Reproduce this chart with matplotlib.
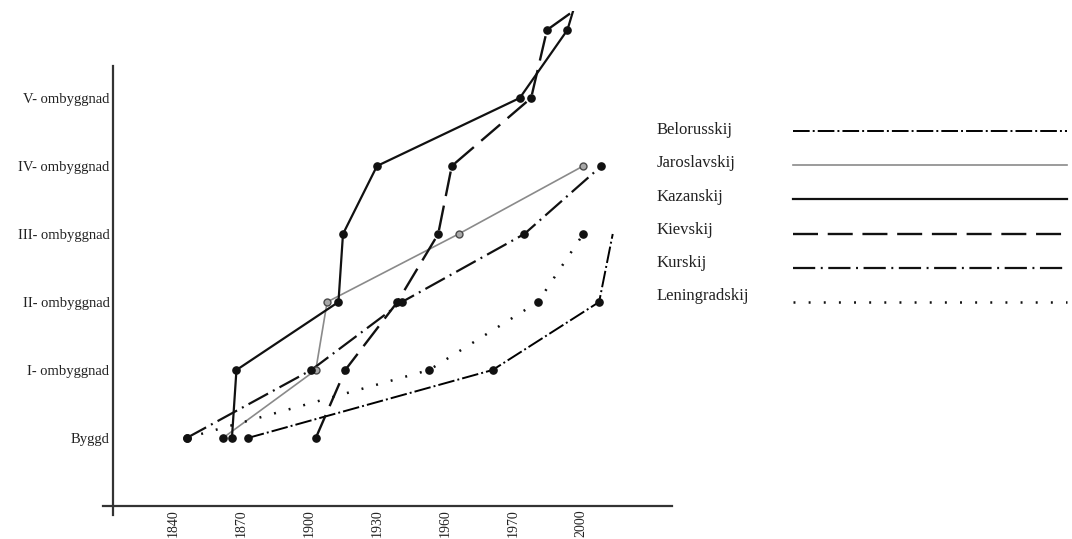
import numpy as np
import matplotlib
matplotlib.use("Agg")
import matplotlib.pyplot as plt
from matplotlib.lines import Line2D

plt.rcParams["font.family"] = ["Liberation Serif", "DejaVu Serif"]
plt.rcParams["lines.scale_dashes"] = False

# Axis categories
stage_labels = ["Byggd", "I- ombyggnad", "II- ombyggnad", "III- ombyggnad",
                "IV- ombyggnad", "V- ombyggnad"]
tick_years = [1840, 1870, 1900, 1930, 1960, 1970, 2000]
tick_labels = ["1840", "1870", "1900", "1930", "1960", "1970", "2000"]

# Station series: year of each stage and stage level (0 = built)
belorusskij_years = [1873, 1967, 2008, 2014]
belorusskij_levels = [0, 1, 2, 3]

jaroslavskij_years = [1862, 1903, 1908, 1962, 2001]
jaroslavskij_levels = [0, 1, 2, 3, 4]

kazanskij_years = [1866, 1868, 1913, 1915, 1930, 1973, 1994, 2003]
kazanskij_levels = [0, 1, 2, 3, 4, 5, 6, 7]

kievskij_years = [1903, 1916, 1939, 1957, 1961, 1978, 1985, 2027]
kievskij_levels = [0, 1, 2, 3, 4, 5, 6, 7]

kurskij_years = [1846, 1901, 1941, 1975, 2009]
kurskij_levels = [0, 1, 2, 3, 4]

leningradskij_years = [1846, 1953, 1981, 2001]
leningradskij_levels = [0, 1, 2, 3]

series = [
    ("Belorusskij", belorusskij_years, belorusskij_levels,
     dict(color="black", lw=1.4, ls=(0, (12, 2.2, 1.4, 2.2))), slice(0, -1)),
    ("Jaroslavskij", jaroslavskij_years, jaroslavskij_levels,
     dict(color="#8a8a8a", lw=1.2, ls="-"), None),
    ("Kazanskij", kazanskij_years, kazanskij_levels,
     dict(color="#111111", lw=1.6, ls="-"), slice(0, -1)),
    ("Kievskij", kievskij_years, kievskij_levels,
     dict(color="#111111", lw=1.7, ls=(0, (18, 7))), slice(0, -1)),
    ("Kurskij", kurskij_years, kurskij_levels,
     dict(color="#111111", lw=1.6, ls=(0, (16, 4, 1.4, 4))), None),
    ("Leningradskij", leningradskij_years, leningradskij_levels,
     dict(color="#111111", lw=1.8, ls=(0, (1.4, 9.5))), None),
]

# Piecewise axis: tick years sit at equal spacing
tick_idx = np.arange(len(tick_years), dtype=float)
ty = np.array(tick_years, dtype=float)


def year_to_pos(y):
    y = np.asarray(y, dtype=float)
    p = np.interp(y, ty, tick_idx)
    p = np.where(y < ty[0], (y - ty[0]) / 30.0, p)
    p = np.where(y > ty[-1], tick_idx[-1] + (y - ty[-1]) / 30.0, p)
    return p


def pos_to_year(p):
    p = np.asarray(p, dtype=float)
    y = np.interp(p, tick_idx, ty)
    y = np.where(p < 0, ty[0] + p * 30.0, y)
    y = np.where(p > tick_idx[-1], ty[-1] + (p - tick_idx[-1]) * 30.0, y)
    return y


W, H = 1072, 539
fig = plt.figure(figsize=(W / 100, H / 100), dpi=100)
fig.patch.set_facecolor("white")

ax_left, ax_right, ax_top = 100, 700, 11
ax = fig.add_axes([ax_left / W, 0, (ax_right - ax_left) / W, (H - ax_top) / H])
ax.set_xscale("function", functions=(year_to_pos, pos_to_year))
ax.set_xlim(1807.8, 2052.5)
ax.set_ylim(-1.485, 6.279)

dark_marker = dict(ls="none", marker="o", ms=5.2, color="#111111", zorder=3)
grey_marker = dict(ls="none", marker="o", ms=5, mfc="#a8a8a8",
                   mec="#4a4a4a", mew=1.0, zorder=3)

for name, yrs, lev, style, mev in series:
    ax.plot(yrs, lev, **style, zorder=2)
    my = yrs if mev is None else yrs[mev]
    ml = lev if mev is None else lev[mev]
    if name == "Jaroslavskij":
        # the building point is dark, later rebuilds are grey rings
        ax.plot(my[:1], ml[:1], **dark_marker)
        ax.plot(my[1:], ml[1:], **grey_marker)
    else:
        ax.plot(my, ml, **dark_marker)

axis_color = "#333333"
for s in ("top", "right"):
    ax.spines[s].set_visible(False)
ax.spines["left"].set_position(("data", 1813.5))
ax.spines["left"].set_bounds(-1.13, 5.47)
ax.spines["bottom"].set_position(("data", -1.0))
ax.spines["bottom"].set_bounds(1809.0, 2040.0)
for s in ("left", "bottom"):
    ax.spines[s].set_color(axis_color)
    ax.spines[s].set_linewidth(1.6)

ax.set_yticks(range(len(stage_labels)))
ax.set_yticklabels(stage_labels, fontsize=10.5, color="#222222")
ax.set_xticks(tick_years)
ax.set_xticklabels(tick_labels, fontsize=10, rotation=90, color="#222222")
ax.tick_params(axis="y", length=0, pad=2.5)
ax.tick_params(axis="x", length=0, pad=2.5)
ax.minorticks_off()
ax.patch.set_alpha(0)

# Legend: name on the left, line sample on the right
for i, (name, yrs, lev, style, mev) in enumerate(series):
    ty_px = 130 + 33.3 * i
    ly_px = 131 + 34.2 * i
    fig.text(657 / W, 1 - ty_px / H, name, fontsize=12, color="#222222",
             ha="left", va="center")
    fig.add_artist(Line2D([793 / W, 1067 / W], [1 - ly_px / H] * 2,
                          transform=fig.transFigure, **style))

fig.savefig("out.png", dpi=100, facecolor="white")
